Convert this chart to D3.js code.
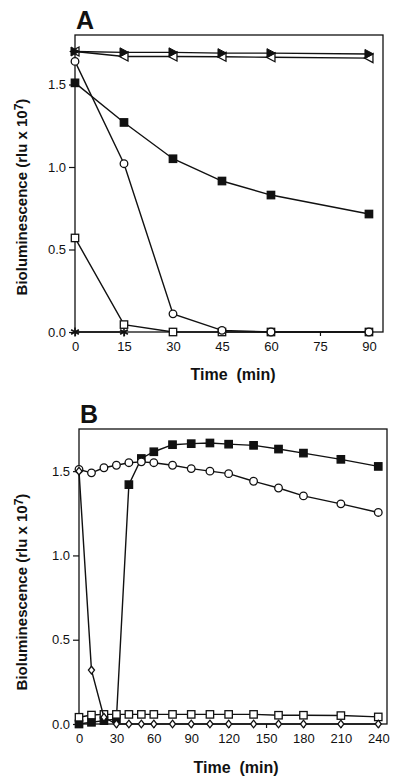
<!DOCTYPE html>
<html><head><meta charset="utf-8">
<script src="https://cdn.jsdelivr.net/npm/d3@7"></script>
<style>
html,body{margin:0;padding:0;background:#fff;}
svg{display:block;}
text{font-family:"Liberation Sans",Arial,Helvetica,sans-serif;fill:#111;}
</style></head>
<body>
<svg id="chart" width="400" height="784"></svg>
<script>
// ---------- Panel A data ----------
const timeA = [0, 15, 30, 45, 60, 90];
const aTriFilled = [1.70, 1.695, 1.695, 1.69, 1.69, 1.685];
const aTriOpen   = [1.70, 1.67, 1.67, 1.668, 1.665, 1.66];
const aCircleOpen = [1.64, 1.02, 0.11, 0.01, 0.0, 0.0];
const aSquareFilled = [1.51, 1.27, 1.05, 0.915, 0.83, 0.715];
const aSquareOpen = [0.57, 0.045, 0.0, 0.0, 0.0, 0.0];
const timeAStar = [0, 15];
const aStar = [0.0, 0.0];
const ticksXA = [0, 15, 30, 45, 60, 75, 90];
const ticksYA = [0, 0.5, 1.0, 1.5];

// ---------- Panel B data ----------
const timeB = [0, 10, 20, 30, 40, 50, 60, 75, 90, 105, 120, 140, 160, 180, 210, 240];
const bCircleOpen = [1.51, 1.49, 1.52, 1.535, 1.55, 1.555, 1.55, 1.535, 1.515, 1.50, 1.485, 1.44, 1.40, 1.353, 1.306, 1.255];
const bSquareFilled = [0.0, 0.01, 0.02, 0.03, 1.42, 1.575, 1.615, 1.657, 1.663, 1.667, 1.66, 1.653, 1.631, 1.607, 1.57, 1.528];
const bSquareOpen = [0.04, 0.053, 0.057, 0.057, 0.057, 0.057, 0.057, 0.057, 0.057, 0.057, 0.057, 0.057, 0.052, 0.052, 0.05, 0.042];
const bDiamondOpen = [1.50, 0.32, 0.04, 0.0, 0.0, 0.0, 0.0, 0.0, 0.0, 0.0, 0.0, 0.0, 0.0, 0.0, 0.0, 0.0];
const ticksXB = [0, 30, 60, 90, 120, 150, 180, 210, 240];
const ticksYB = [0, 0.5, 1.0, 1.5];

const svg = d3.select("#chart");
const fmtY = d3.format(".1f");

function zip(xs, ys){ return xs.map((x,i)=>({x:x, y:ys[i]})); }

function drawMarker(g, type, px, py){
  const k = 3.7;
  if (type === "squareFilled" || type === "squareOpen") {
    g.append("rect").attr("x", px-k).attr("y", py-k).attr("width", 2*k).attr("height", 2*k)
      .attr("fill", type==="squareFilled" ? "#111" : "#fff").attr("stroke","#111").attr("stroke-width",1.3);
  } else if (type === "circleOpen") {
    g.append("circle").attr("cx", px).attr("cy", py).attr("r", 3.8)
      .attr("fill","#fff").attr("stroke","#111").attr("stroke-width",1.3);
  } else if (type === "diamondOpen") {
    const d = 3.8;
    g.append("path").attr("d", `M${px},${py-d}L${px+d*0.8},${py}L${px},${py+d}L${px-d*0.8},${py}Z`)
      .attr("fill","#fff").attr("stroke","#111").attr("stroke-width",1.3);
  } else if (type === "triRight") {
    g.append("path").attr("d", `M${px-4},${py-4.5}L${px+4.5},${py}L${px-4},${py+4.5}Z`)
      .attr("fill","#111").attr("stroke","#111").attr("stroke-width",1);
  } else if (type === "triLeft") {
    g.append("path").attr("d", `M${px+4},${py-4.5}L${px-4.5},${py}L${px+4},${py+4.5}Z`)
      .attr("fill","#fff").attr("stroke","#111").attr("stroke-width",1.3);
  } else if (type === "star") {
    const r = 4.5;
    for (let a = 0; a < 180; a += 60) {
      const t = (a + 90) * Math.PI / 180;
      g.append("line").attr("x1", px - r*Math.cos(t)).attr("y1", py - r*Math.sin(t))
        .attr("x2", px + r*Math.cos(t)).attr("y2", py + r*Math.sin(t))
        .attr("stroke","#111").attr("stroke-width",1.6);
    }
  }
}

function drawSeries(g, x, y, data, type){
  const line = d3.line().x(d=>x(d.x)).y(d=>y(d.y));
  g.append("path").datum(data).attr("d", line).attr("fill","none")
    .attr("stroke","#111").attr("stroke-width",1.4);
  data.forEach(d => drawMarker(g, type, x(d.x), y(d.y)));
}

function drawPanel(opt){
  const g = svg.append("g");
  const x = d3.scaleLinear().domain(opt.xDomain).range([opt.left, opt.right]);
  const y = d3.scaleLinear().domain(opt.yDomain).range([opt.bottom, opt.top]);

  const yAxis = d3.axisLeft(y).tickValues(opt.ticksY).tickFormat(fmtY).tickSize(6).tickPadding(3);
  const gy = g.append("g").attr("transform", `translate(${opt.left},0)`).call(yAxis);
  const xAxis = d3.axisBottom(x).tickValues(opt.ticksX).tickSize(4).tickPadding(6);
  const gx = g.append("g").attr("transform", `translate(0,${opt.bottom})`).call(xAxis);
  [gx, gy].forEach(a => {
    a.select(".domain").remove();
    a.selectAll("line").attr("stroke","#111").attr("stroke-width",1.2);
    a.selectAll("text").attr("font-size", 13).attr("fill","#111")
      .attr("font-family", '"Liberation Sans",Arial,sans-serif');
  });

  g.append("rect").attr("x", opt.left).attr("y", opt.top)
    .attr("width", opt.right - opt.left).attr("height", opt.bottom - opt.top)
    .attr("fill","none").attr("stroke","#111").attr("stroke-width",1.3);

  opt.series.forEach(s => drawSeries(g, x, y, s.data, s.type));

  g.append("text").attr("x", opt.left + 1).attr("y", opt.top - 6)
    .attr("font-size", 25).attr("font-weight","bold").text(opt.letter);

  const cy = opt.titleYCenter;
  const yt = g.append("text").attr("transform", `translate(27,${cy}) rotate(-90)`)
    .attr("text-anchor","middle").attr("font-size",15).attr("font-weight","bold");
  yt.append("tspan").text("Bioluminescence (rlu x 10");
  yt.append("tspan").attr("dy", -4).attr("font-size", 12).text("7");
  yt.append("tspan").attr("dy", 4).text(")");

  g.append("text").attr("x", opt.xTitleX).attr("y", opt.xTitleY)
    .attr("text-anchor","middle").attr("font-size",16).attr("font-weight","bold")
    .attr("xml:space","preserve").style("white-space","pre").text("Time  (min)");
}

drawPanel({
  letter: "A",
  left: 75, right: 383, top: 35, bottom: 332,
  xDomain: [0, 94.3], yDomain: [0, 1.8],
  ticksX: ticksXA, ticksY: ticksYA,
  titleYCenter: 197, xTitleX: 233, xTitleY: 380,
  series: [
    {data: zip(timeA, aTriOpen), type: "triLeft"},
    {data: zip(timeA, aTriFilled), type: "triRight"},
    {data: zip(timeAStar, aStar), type: "star"},
    {data: zip(timeA, aSquareOpen), type: "squareOpen"},
    {data: zip(timeA, aCircleOpen), type: "circleOpen"},
    {data: zip(timeA, aSquareFilled), type: "squareFilled"}
  ]
});

drawPanel({
  letter: "B",
  left: 79, right: 387, top: 429, bottom: 724,
  xDomain: [0, 247], yDomain: [0, 1.75],
  ticksX: ticksXB, ticksY: ticksYB,
  titleYCenter: 592, xTitleX: 236, xTitleY: 773,
  series: [
    {data: zip(timeB, bSquareFilled), type: "squareFilled"},
    {data: zip(timeB, bSquareOpen), type: "squareOpen"},
    {data: zip(timeB, bCircleOpen), type: "circleOpen"},
    {data: zip(timeB, bDiamondOpen), type: "diamondOpen"}
  ]
});
</script>
</body></html>
